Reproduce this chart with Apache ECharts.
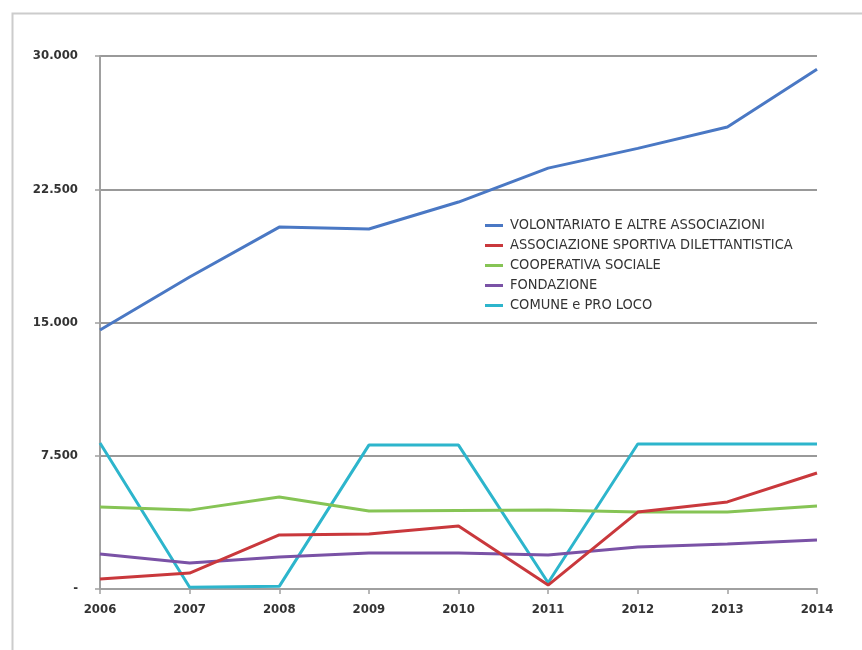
<!DOCTYPE html>
<html>
<head>
<meta charset="utf-8">
<script src="https://cdn.jsdelivr.net/npm/echarts@6/dist/echarts.min.js"></script>
<style>
  html, body { margin: 0; padding: 0; background: #fff; }
  #chart { width: 862px; height: 650px; }
</style>
</head>
<body>
<div id="chart"></div>
<script>
// Years on the horizontal axis
const years = ['2006', '2007', '2008', '2009', '2010', '2011', '2012', '2013', '2014'];

// Values per type of organisation
const volontariato = [14580, 17560, 20370, 20260, 21780, 23690, 24800, 26000, 29250];
const sportiva     = [560, 900, 3040, 3100, 3550, 220, 4330, 4900, 6530];
const cooperativa  = [4610, 4440, 5180, 4390, 4420, 4440, 4330, 4330, 4670];
const fondazione   = [1970, 1460, 1800, 2030, 2030, 1910, 2360, 2530, 2760];
const comune       = [8215, 100, 150, 8100, 8100, 350, 8160, 8160, 8160];

const seriesNames = [
  'VOLONTARIATO E ALTRE ASSOCIAZIONI',
  'ASSOCIAZIONE SPORTIVA DILETTANTISTICA',
  'COOPERATIVA SOCIALE',
  'FONDAZIONE',
  'COMUNE e PRO LOCO'
];
const seriesData = [volontariato, sportiva, cooperativa, fondazione, comune];
const colors = ['#4a78c4', '#c9383c', '#86c455', '#7a52a6', '#2db5cc'];

// Y tick labels: Italian thousands separator, dash for zero
const fmtY = v => v === 0 ? '-' : v.toLocaleString('it-IT').replace(/\u00a0|,/g, '.');

const font = '"Liberation Sans Narrow", "DejaVu Sans Condensed", sans-serif';

const chart = echarts.init(document.getElementById('chart'));
chart.setOption({
  animation: false,
  color: colors,
  graphic: [{
    type: 'rect',
    shape: { x: 12.5, y: 13.5, width: 900, height: 700 },
    style: { fill: 'none', stroke: '#cccccc', lineWidth: 2 },
    silent: true
  }],
  grid: { left: 100, right: 45, top: 56, bottom: 61 },
  legend: {
    orient: 'vertical',
    left: 480,
    top: 213,
    itemGap: 5,
    itemWidth: 18,
    itemHeight: 3,
    icon: 'rect',
    textStyle: { fontFamily: font, fontSize: 14.5, color: '#333', padding: [0, 0, 0, 2] },
    data: seriesNames
  },
  xAxis: {
    type: 'category',
    data: years,
    boundaryGap: false,
    axisLine: { lineStyle: { color: '#a0a0a0', width: 2 } },
    axisTick: { show: true, length: 5, alignWithLabel: true, lineStyle: { color: '#a0a0a0', width: 1.5 } },
    axisLabel: { fontFamily: font, fontSize: 13, fontWeight: 'bold', color: '#333', margin: 14 },
    splitLine: { show: false }
  },
  yAxis: {
    type: 'value',
    min: 0,
    max: 30000,
    interval: 7500,
    axisLine: { show: true, lineStyle: { color: '#a0a0a0', width: 2 } },
    axisTick: { show: true, length: 5, lineStyle: { color: '#a0a0a0', width: 1.5 } },
    axisLabel: { fontFamily: font, fontSize: 13, fontWeight: 'bold', color: '#333', margin: 22, formatter: fmtY },
    splitLine: { lineStyle: { color: '#999', width: 2 } }
  },
  series: seriesNames.map((name, i) => ({
    name: name,
    type: 'line',
    data: seriesData[i],
    symbol: 'none',
    lineStyle: { width: 3, color: colors[i] },
    z: 5 - i
  }))
});
</script>
</body>
</html>
